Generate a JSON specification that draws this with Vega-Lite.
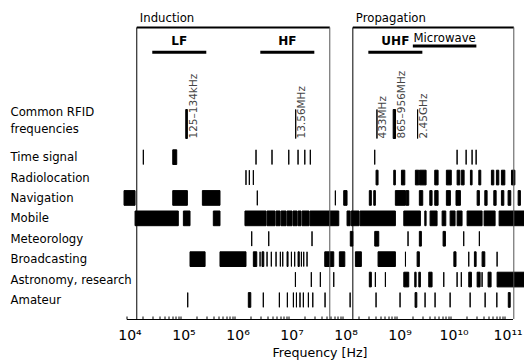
{
  "$schema": "https://vega.github.io/schema/vega-lite/v6.json",
  "autosize": "none",
  "padding": {"left": 126.5, "top": 15.7, "right": 11.5, "bottom": 44},
  "width": 386,
  "height": 303.3,
  "config": {"view": {"stroke": null}, "font": "DejaVu Sans"},
  "datasets": {
    "services": [
      {"service": "Time signal", "start": 20500, "end": 20500},
      {"service": "Time signal", "start": 71800, "end": 85100},
      {"service": "Time signal", "start": 2500000, "end": 2500000},
      {"service": "Time signal", "start": 4940000, "end": 4940000},
      {"service": "Time signal", "start": 10100000, "end": 10100000},
      {"service": "Time signal", "start": 15000000, "end": 15000000},
      {"service": "Time signal", "start": 20000000, "end": 20000000},
      {"service": "Time signal", "start": 25300000, "end": 25300000},
      {"service": "Time signal", "start": 394000000, "end": 394000000},
      {"service": "Time signal", "start": 13200000000, "end": 13200000000},
      {"service": "Time signal", "start": 19400000000, "end": 19400000000},
      {"service": "Time signal", "start": 25000000000, "end": 25000000000},
      {"service": "Time signal", "start": 29700000000, "end": 29700000000},

      {"service": "Radiolocation", "start": 1630000, "end": 1630000},
      {"service": "Radiolocation", "start": 1880000, "end": 1880000},
      {"service": "Radiolocation", "start": 2230000, "end": 2230000},
      {"service": "Radiolocation", "start": 417000000, "end": 454000000},
      {"service": "Radiolocation", "start": 887000000, "end": 950000000},
      {"service": "Radiolocation", "start": 1230000000, "end": 1420000000},
      {"service": "Radiolocation", "start": 2230000000, "end": 2580000000},
      {"service": "Radiolocation", "start": 2640000000, "end": 3520000000},
      {"service": "Radiolocation", "start": 5090000000, "end": 5870000000},
      {"service": "Radiolocation", "start": 8360000000, "end": 10300000000},
      {"service": "Radiolocation", "start": 13200000000, "end": 14800000000},
      {"service": "Radiolocation", "start": 15800000000, "end": 17800000000},
      {"service": "Radiolocation", "start": 23300000000, "end": 25000000000},
      {"service": "Radiolocation", "start": 33300000000, "end": 36200000000},
      {"service": "Radiolocation", "start": 57000000000, "end": 63100000000},
      {"service": "Radiolocation", "start": 70500000000, "end": 78100000000},
      {"service": "Radiolocation", "start": 87300000000, "end": 101000000000},
      {"service": "Radiolocation", "start": 134000000000, "end": 155000000000},

      {"service": "Navigation", "start": 9000, "end": 14400},
      {"service": "Navigation", "start": 71800, "end": 134000},
      {"service": "Navigation", "start": 254000, "end": 538000},
      {"service": "Navigation", "start": 2640000, "end": 2640000},
      {"service": "Navigation", "start": 73600000, "end": 73600000},
      {"service": "Navigation", "start": 105000000, "end": 121000000},
      {"service": "Navigation", "start": 313000000, "end": 341000000},
      {"service": "Navigation", "start": 378000000, "end": 405000000},
      {"service": "Navigation", "start": 950000000, "end": 1460000000},
      {"service": "Navigation", "start": 1500000000, "end": 1680000000},
      {"service": "Navigation", "start": 2640000000, "end": 3050000000},
      {"service": "Navigation", "start": 4120000000, "end": 4540000000},
      {"service": "Navigation", "start": 5090000000, "end": 5870000000},
      {"service": "Navigation", "start": 8360000000, "end": 9910000000},
      {"service": "Navigation", "start": 12600000000, "end": 15200000000},
      {"service": "Navigation", "start": 31000000000, "end": 34100000000},
      {"service": "Navigation", "start": 43000000000, "end": 47400000000},
      {"service": "Navigation", "start": 63100000000, "end": 69700000000},
      {"service": "Navigation", "start": 87300000000, "end": 96700000000},
      {"service": "Navigation", "start": 116000000000, "end": 130000000000},
      {"service": "Navigation", "start": 178000000000, "end": 196000000000},

      {"service": "Mobile", "start": 14400, "end": 91000},
      {"service": "Mobile", "start": 113000, "end": 150000},
      {"service": "Mobile", "start": 405000, "end": 538000},
      {"service": "Mobile", "start": 1560000, "end": 3830000},
      {"service": "Mobile", "start": 4000000, "end": 5620000},
      {"service": "Mobile", "start": 5870000, "end": 6970000},
      {"service": "Mobile", "start": 7270000, "end": 9000000},
      {"service": "Mobile", "start": 9380000, "end": 11600000},
      {"service": "Mobile", "start": 12100000, "end": 14400000},
      {"service": "Mobile", "start": 15000000, "end": 17000000},
      {"service": "Mobile", "start": 17800000, "end": 24000000},
      {"service": "Mobile", "start": 25000000, "end": 85100000},
      {"service": "Mobile", "start": 121000000, "end": 138000000},
      {"service": "Mobile", "start": 144000000, "end": 202000000},
      {"service": "Mobile", "start": 211000000, "end": 951000000},
      {"service": "Mobile", "start": 1360000000, "end": 2760000000},
      {"service": "Mobile", "start": 3330000000, "end": 3520000000},
      {"service": "Mobile", "start": 4170000000, "end": 5620000000},
      {"service": "Mobile", "start": 6970000000, "end": 8150000000},
      {"service": "Mobile", "start": 9800000000, "end": 12100000000},
      {"service": "Mobile", "start": 13200000000, "end": 16300000000},
      {"service": "Mobile", "start": 20200000000, "end": 38300000000},
      {"service": "Mobile", "start": 41700000000, "end": 66700000000},
      {"service": "Mobile", "start": 79100000000, "end": 230000000000},

      {"service": "Meteorology", "start": 2080000, "end": 2080000},
      {"service": "Meteorology", "start": 4300000, "end": 4300000},
      {"service": "Meteorology", "start": 27200000, "end": 27200000},
      {"service": "Meteorology", "start": 139000000, "end": 155000000},
      {"service": "Meteorology", "start": 394000000, "end": 468000000},
      {"service": "Meteorology", "start": 1630000000, "end": 1630000000},
      {"service": "Meteorology", "start": 2640000000, "end": 2880000000},
      {"service": "Meteorology", "start": 7260000000, "end": 8020000000},
      {"service": "Meteorology", "start": 17500000000, "end": 17500000000},
      {"service": "Meteorology", "start": 34100000000, "end": 34100000000},

      {"service": "Broadcasting", "start": 150000, "end": 285000},
      {"service": "Broadcasting", "start": 538000, "end": 1630000},
      {"service": "Broadcasting", "start": 2230000, "end": 2580000},
      {"service": "Broadcasting", "start": 2970000, "end": 2970000},
      {"service": "Broadcasting", "start": 3230000, "end": 3480000},
      {"service": "Broadcasting", "start": 4000000, "end": 4000000},
      {"service": "Broadcasting", "start": 4800000, "end": 4800000},
      {"service": "Broadcasting", "start": 5870000, "end": 5870000},
      {"service": "Broadcasting", "start": 7050000, "end": 7050000},
      {"service": "Broadcasting", "start": 7810000, "end": 7810000},
      {"service": "Broadcasting", "start": 9380000, "end": 9790000},
      {"service": "Broadcasting", "start": 11300000, "end": 11300000},
      {"service": "Broadcasting", "start": 13000000, "end": 13000000},
      {"service": "Broadcasting", "start": 15000000, "end": 15800000},
      {"service": "Broadcasting", "start": 17300000, "end": 17300000},
      {"service": "Broadcasting", "start": 19100000, "end": 19100000},
      {"service": "Broadcasting", "start": 22000000, "end": 22000000},
      {"service": "Broadcasting", "start": 46800000, "end": 68700000},
      {"service": "Broadcasting", "start": 87300000, "end": 110000000},
      {"service": "Broadcasting", "start": 173000000, "end": 223000000},
      {"service": "Broadcasting", "start": 454000000, "end": 951000000},
      {"service": "Broadcasting", "start": 1460000000, "end": 1460000000},
      {"service": "Broadcasting", "start": 2400000000, "end": 2640000000},
      {"service": "Broadcasting", "start": 11500000000, "end": 12600000000},
      {"service": "Broadcasting", "start": 21700000000, "end": 21700000000},
      {"service": "Broadcasting", "start": 27600000000, "end": 29700000000},
      {"service": "Broadcasting", "start": 38300000000, "end": 43000000000},
      {"service": "Broadcasting", "start": 72600000000, "end": 72600000000},

      {"service": "Astronomy, research", "start": 13400000, "end": 13400000},
      {"service": "Astronomy, research", "start": 26400000, "end": 26400000},
      {"service": "Astronomy, research", "start": 38800000, "end": 38800000},
      {"service": "Astronomy, research", "start": 68700000, "end": 68700000},
      {"service": "Astronomy, research", "start": 313000000, "end": 341000000},
      {"service": "Astronomy, research", "start": 405000000, "end": 405000000},
      {"service": "Astronomy, research", "start": 621000000, "end": 621000000},
      {"service": "Astronomy, research", "start": 1360000000, "end": 1680000000},
      {"service": "Astronomy, research", "start": 2170000000, "end": 2300000000},
      {"service": "Astronomy, research", "start": 2580000000, "end": 2760000000},
      {"service": "Astronomy, research", "start": 3940000000, "end": 4540000000},
      {"service": "Astronomy, research", "start": 7480000000, "end": 7480000000},
      {"service": "Astronomy, research", "start": 13200000000, "end": 13200000000},
      {"service": "Astronomy, research", "start": 15800000000, "end": 15800000000},
      {"service": "Astronomy, research", "start": 21700000000, "end": 24300000000},
      {"service": "Astronomy, research", "start": 31000000000, "end": 35200000000},
      {"service": "Astronomy, research", "start": 38300000000, "end": 38300000000},
      {"service": "Astronomy, research", "start": 49400000000, "end": 56200000000},
      {"service": "Astronomy, research", "start": 72600000000, "end": 230000000000},

      {"service": "Amateur", "start": 136000, "end": 136000},
      {"service": "Amateur", "start": 1800000, "end": 2000000},
      {"service": "Amateur", "start": 3410000, "end": 3410000},
      {"service": "Amateur", "start": 6760000, "end": 6760000},
      {"service": "Amateur", "start": 9510000, "end": 9510000},
      {"service": "Amateur", "start": 12300000, "end": 12300000},
      {"service": "Amateur", "start": 14000000, "end": 14000000},
      {"service": "Amateur", "start": 16300000, "end": 16300000},
      {"service": "Amateur", "start": 18800000, "end": 18800000},
      {"service": "Amateur", "start": 23300000, "end": 23300000},
      {"service": "Amateur", "start": 28100000, "end": 28100000},
      {"service": "Amateur", "start": 47400000, "end": 47400000},
      {"service": "Amateur", "start": 138000000, "end": 138000000},
      {"service": "Amateur", "start": 417000000, "end": 417000000},
      {"service": "Amateur", "start": 1160000000, "end": 1160000000},
      {"service": "Amateur", "start": 2200000000, "end": 2370000000},
      {"service": "Amateur", "start": 3370000000, "end": 3370000000},
      {"service": "Amateur", "start": 5160000000, "end": 5160000000},
      {"service": "Amateur", "start": 9800000000, "end": 9800000000},
      {"service": "Amateur", "start": 23000000000, "end": 23000000000},
      {"service": "Amateur", "start": 43600000000, "end": 43600000000},
      {"service": "Amateur", "start": 71800000000, "end": 71800000000},
      {"service": "Amateur", "start": 117000000000, "end": 127000000000}
    ],
    "regimes": [
      {"regime": "Induction", "start": 15500, "end": 58000000},
      {"regime": "Propagation", "start": 155000000, "end": 148000000000}
    ],
    "bands": [
      {"band": "LF", "start": 30000, "end": 300000, "mid": 94900},
      {"band": "HF", "start": 3000000, "end": 30000000, "mid": 9490000},
      {"band": "UHF", "start": 300000000, "end": 3000000000, "mid": 949000000},
      {"band": "Microwave", "start": 2000000000, "end": 30000000000, "mid": 7750000000}
    ],
    "rfid": [
      {"label": "125–134kHz", "start": 125000, "end": 134000},
      {"label": "13.56MHz", "start": 13560000, "end": 13560000},
      {"label": "433MHz", "start": 433000000, "end": 433000000},
      {"label": "865–956MHz", "start": 865000000, "end": 956000000},
      {"label": "2.45GHz", "start": 2450000000, "end": 2450000000}
    ]
  },
  "layer": [
    {
      "data": {"name": "services"},
      "mark": {"type": "rect", "fill": "black", "stroke": "black", "strokeWidth": 1},
      "encoding": {
        "x": {
          "field": "start", "type": "quantitative", "title": "Frequency [Hz]",
          "scale": {"type": "log", "domain": [10000, 140000000000], "nice": false},
          "axis": {
            "values": [10000,20000,30000,40000,50000,60000,70000,80000,90000,
                       100000,200000,300000,400000,500000,600000,700000,800000,900000,
                       1000000,2000000,3000000,4000000,5000000,6000000,7000000,8000000,9000000,
                       10000000,20000000,30000000,40000000,50000000,60000000,70000000,80000000,90000000,
                       100000000,200000000,300000000,400000000,500000000,600000000,700000000,800000000,900000000,
                       1000000000,2000000000,3000000000,4000000000,5000000000,6000000000,7000000000,8000000000,9000000000,
                       10000000000,20000000000,30000000000,40000000000,50000000000,60000000000,70000000000,80000000000,90000000000,
                       100000000000],
            "labelExpr": "datum.value == 10000 ? '10⁴' : datum.value == 100000 ? '10⁵' : datum.value == 1000000 ? '10⁶' : datum.value == 10000000 ? '10⁷' : datum.value == 100000000 ? '10⁸' : datum.value == 1000000000 ? '10⁹' : datum.value == 10000000000 ? '10¹⁰' : datum.value == 100000000000 ? '10¹¹' : ''",
            "grid": false,
            "tickSize": -3,
            "tickColor": "black",
            "domainColor": "black",
            "labelFont": "DejaVu Sans",
            "labelFontSize": 14,
            "labelColor": "black",
            "labelPadding": 12,
            "labelOffset": 3,
            "labelFlush": false,
            "labelOverlap": false,
            "titleFont": "DejaVu Sans",
            "titleFontSize": 12.6,
            "titleFontWeight": "normal",
            "titleColor": "black",
            "titlePadding": 4
          }
        },
        "x2": {"field": "end"},
        "y": {
          "field": "service", "type": "nominal", "title": null,
          "scale": {
            "domain": ["regime", "band", "gapA", "gapB", "Common RFID frequencies", "gapC",
                       "Time signal", "Radiolocation", "Navigation", "Mobile", "Meteorology",
                       "Broadcasting", "Astronomy, research", "Amateur"],
            "paddingInner": 0.28, "paddingOuter": 0.574
          },
          "axis": {
            "domain": false, "ticks": false, "tickSize": 0,
            "labelAlign": "left", "labelPadding": 116.5, "labelBaseline": "middle",
            "labelFont": "DejaVu Sans", "labelFontSize": 11.7, "labelColor": "black",
            "labelLimit": 0, "labelLineHeight": 17,
            "labelExpr": "datum.value == 'Common RFID frequencies' ? ['Common RFID', 'frequencies'] : (indexof(['regime','band','gapA','gapB','gapC'], datum.value) >= 0 ? '' : datum.value)",
            "labelOffset": {"condition": {"test": "datum.value == 'Common RFID frequencies'", "value": -4}, "value": 0}
          }
        }
      }
    },
    {
      "data": {"name": "regimes"},
      "mark": {"type": "rule", "color": "black", "strokeWidth": 2},
      "encoding": {
        "x": {"field": "start", "type": "quantitative", "title": "Frequency [Hz]"},
        "x2": {"field": "end"},
        "y": {"datum": "regime", "type": "nominal", "bandPosition": 0, "title": null}
      }
    },
    {
      "data": {"name": "regimes"},
      "mark": {"type": "rule", "color": "black", "strokeWidth": 1},
      "encoding": {
        "x": {"field": "start", "type": "quantitative", "title": "Frequency [Hz]"},
        "y": {"datum": "regime", "type": "nominal", "bandPosition": 0, "title": null},
        "y2": {"value": "height"}
      }
    },
    {
      "data": {"name": "regimes"},
      "mark": {"type": "rule", "color": "#555", "strokeWidth": 1},
      "encoding": {
        "x": {"field": "end", "type": "quantitative", "title": "Frequency [Hz]"},
        "y": {"datum": "regime", "type": "nominal", "bandPosition": 0, "title": null},
        "y2": {"value": "height"}
      }
    },
    {
      "data": {"name": "regimes"},
      "mark": {"type": "text", "align": "left", "baseline": "alphabetic", "dx": 3, "dy": -5.7, "fontSize": 11.7, "font": "DejaVu Sans", "color": "black"},
      "encoding": {
        "x": {"field": "start", "type": "quantitative", "title": "Frequency [Hz]"},
        "y": {"datum": "regime", "type": "nominal", "bandPosition": 0, "title": null},
        "text": {"field": "regime"}
      }
    },
    {
      "data": {"name": "bands"},
      "transform": [{"filter": "datum.band != 'Microwave'"}],
      "layer": [
        {
          "mark": {"type": "rule", "color": "black", "strokeWidth": 3, "yOffset": -2.85},
          "encoding": {
            "x": {"field": "start", "type": "quantitative", "title": "Frequency [Hz]"},
            "x2": {"field": "end"},
            "y": {"datum": "band", "type": "nominal", "title": null}
          }
        },
        {
          "mark": {"type": "text", "align": "center", "baseline": "alphabetic", "yOffset": -10.15, "fontSize": 12, "fontWeight": "bold", "font": "DejaVu Sans", "color": "black"},
          "encoding": {
            "x": {"field": "mid", "type": "quantitative", "title": "Frequency [Hz]"},
            "y": {"datum": "band", "type": "nominal", "title": null},
            "text": {"field": "band"}
          }
        }
      ]
    },
    {
      "data": {"name": "bands"},
      "transform": [{"filter": "datum.band == 'Microwave'"}],
      "layer": [
        {
          "mark": {"type": "rule", "color": "black", "strokeWidth": 3, "yOffset": -9.15},
          "encoding": {
            "x": {"field": "start", "type": "quantitative", "title": "Frequency [Hz]"},
            "x2": {"field": "end"},
            "y": {"datum": "band", "type": "nominal", "title": null}
          }
        },
        {
          "mark": {"type": "text", "align": "center", "baseline": "alphabetic", "yOffset": -13.45, "fontSize": 11.7, "font": "DejaVu Sans", "color": "black"},
          "encoding": {
            "x": {"field": "mid", "type": "quantitative", "title": "Frequency [Hz]"},
            "y": {"datum": "band", "type": "nominal", "title": null},
            "text": {"field": "band"}
          }
        }
      ]
    },
    {
      "data": {"name": "rfid"},
      "layer": [
        {
          "mark": {"type": "rect", "fill": "black", "stroke": "black", "strokeWidth": 1, "height": 29, "yOffset": 7.65},
          "encoding": {
            "x": {"field": "start", "type": "quantitative", "title": "Frequency [Hz]"},
            "x2": {"field": "end"},
            "y": {"datum": "Common RFID frequencies", "type": "nominal", "title": null}
          }
        },
        {
          "mark": {"type": "text", "angle": 270, "align": "left", "baseline": "top", "xOffset": 1.5, "yOffset": 22.15, "fontSize": 10.5, "font": "DejaVu Sans", "color": "#444"},
          "encoding": {
            "x": {"field": "end", "type": "quantitative", "title": "Frequency [Hz]"},
            "y": {"datum": "Common RFID frequencies", "type": "nominal", "title": null},
            "text": {"field": "label"}
          }
        }
      ]
    }
  ]
}
